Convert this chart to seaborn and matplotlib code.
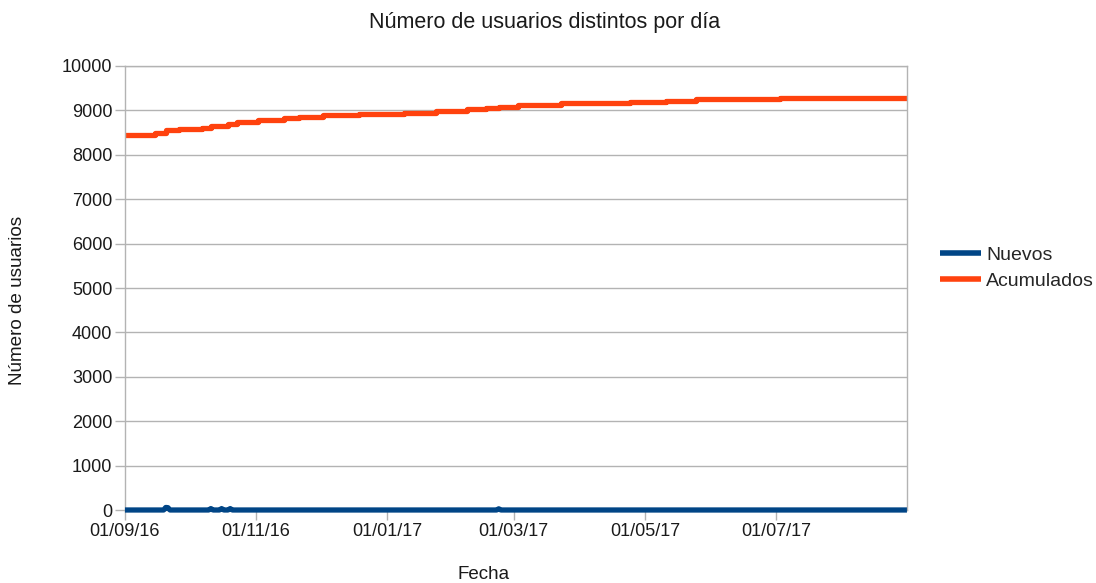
import pandas as pd
import matplotlib
matplotlib.use("Agg")
import matplotlib.pyplot as plt
import matplotlib.dates as mdates
import seaborn as sns

# ── Data ──────────────────────────────────────────────────────
acum_fechas = ["2016-09-01", "2016-09-15", "2016-09-20", "2016-09-26", "2016-10-07",
               "2016-10-11", "2016-10-19", "2016-10-23", "2016-11-02", "2016-11-14",
               "2016-11-21", "2016-12-02", "2016-12-19", "2017-01-09", "2017-01-24",
               "2017-02-07", "2017-02-16", "2017-02-22", "2017-03-03", "2017-03-23",
               "2017-04-24", "2017-05-11", "2017-05-25", "2017-07-03", "2017-08-31"]
acum_valores = [8440, 8490, 8550, 8585, 8610,
                8650, 8700, 8740, 8785, 8825,
                8860, 8895, 8920, 8950, 8985,
                9025, 9055, 9080, 9120, 9160,
                9195, 9220, 9255, 9285, 9285]

nuevos_fechas = ["2016-09-01", "2016-09-19", "2016-09-20", "2016-09-21", "2016-09-22",
                 "2016-10-10", "2016-10-11", "2016-10-12", "2016-10-15", "2016-10-16",
                 "2016-10-17", "2016-10-19", "2016-10-20", "2016-10-21", "2017-02-21",
                 "2017-02-22", "2017-02-23", "2017-08-31"]
nuevos_valores = [3, 3, 60, 55, 3,
                  3, 35, 3, 3, 35,
                  3, 3, 35, 3, 3,
                  30, 3, 3]

x_ticks = ["2016-09-01", "2016-11-01", "2017-01-01", "2017-03-01", "2017-05-01", "2017-07-01"]
y_ticks = list(range(0, 10001, 1000))

acum = pd.DataFrame({"Fecha": pd.to_datetime(acum_fechas), "Usuarios": acum_valores})
nuevos = pd.DataFrame({"Fecha": pd.to_datetime(nuevos_fechas), "Usuarios": nuevos_valores})

# ── Style ─────────────────────────────────────────────────────
sns.set_theme(style="white")
plt.rcParams["font.family"] = ["Liberation Sans", "DejaVu Sans"]
plt.rcParams["lines.solid_capstyle"] = "butt"
GRID = "#b3b3b3"
TEXT = "#1a1a1a"
COLORS = {"nuevos": "#004586", "acum": "#ff420e"}

fig = plt.figure(figsize=(10.96, 5.83), dpi=100)
ax = fig.add_axes([0.114, 0.125, 0.7135, 0.762])

sns.lineplot(data=nuevos, x="Fecha", y="Usuarios", ax=ax, color=COLORS["nuevos"],
             lw=3.8, label="Nuevos", clip_on=False, zorder=3)
sns.lineplot(data=acum, x="Fecha", y="Usuarios", ax=ax, color=COLORS["acum"],
             lw=3.8, drawstyle="steps-post", label="Acumulados")

ax.set_xlim(pd.Timestamp("2016-09-01"), pd.Timestamp("2017-08-31"))
ax.set_ylim(0, 10000)
ax.set_yticks(y_ticks)
ax.set_xticks(pd.to_datetime(x_ticks))
ax.xaxis.set_major_formatter(mdates.DateFormatter("%d/%m/%y"))
ax.grid(axis="y", color=GRID, lw=1)
ax.grid(axis="x", visible=False)
for side in ["left", "bottom", "right", "top"]:
    ax.spines[side].set_color(GRID)
    ax.spines[side].set_linewidth(1)
ax.tick_params(axis="both", which="major", length=7, width=1, color=GRID,
               labelsize=13, labelcolor=TEXT, direction="out",
               left=True, bottom=True, pad=2)
ax.set_xlabel("")
ax.set_ylabel("")

fig.text(0.497, 0.962, "Número de usuarios distintos por día", ha="center", va="center",
         fontsize=15.5, color=TEXT)
fig.text(0.441, 0.015, "Fecha", ha="center", va="center", fontsize=13.5, color=TEXT)
fig.text(0.016, 0.485, "Número de usuarios", ha="center", va="center", rotation=90,
         fontsize=13.6, color=TEXT)

leg = ax.legend(loc="center left", bbox_to_anchor=(1.032, 0.545), frameon=False,
                fontsize=14, handlelength=2.1, handletextpad=0.3, labelspacing=0.4,
                borderaxespad=0)
for line in leg.get_lines():
    line.set_linewidth(4)

plt.savefig("out.png", dpi=100)
plt.close()
